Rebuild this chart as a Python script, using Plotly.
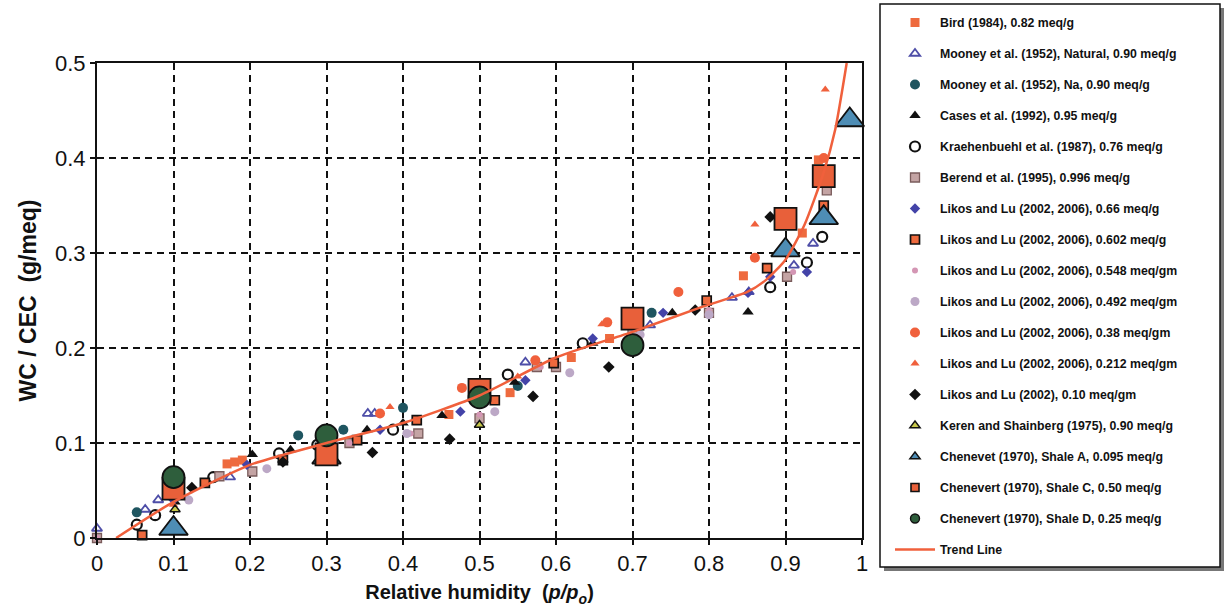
import plotly.graph_objects as go

# ---------------- data ----------------
bird_x = [0.17, 0.18, 0.19, 0.30, 0.46, 0.54, 0.62, 0.67, 0.845, 0.922, 0.943]
bird_y = [0.078, 0.080, 0.082, 0.100, 0.130, 0.153, 0.190, 0.210, 0.276, 0.321, 0.398]

mooney_nat_x = [0.0, 0.063, 0.08, 0.174, 0.354, 0.363, 0.56, 0.723, 0.83, 0.852, 0.911, 0.936]
mooney_nat_y = [0.010, 0.030, 0.040, 0.064, 0.131, 0.131, 0.185, 0.224, 0.253, 0.259, 0.287, 0.310]

mooney_na_x = [0.052, 0.263, 0.322, 0.40, 0.55, 0.725]
mooney_na_y = [0.027, 0.108, 0.114, 0.137, 0.160, 0.237]

cases_x = [0.102, 0.203, 0.253, 0.353, 0.40, 0.451, 0.546, 0.648, 0.752, 0.851]
cases_y = [0.038, 0.088, 0.093, 0.114, 0.121, 0.129, 0.164, 0.205, 0.237, 0.238]

kraeh_x = [0.052, 0.076, 0.152, 0.238, 0.288, 0.387, 0.537, 0.635, 0.88, 0.928, 0.948]
kraeh_y = [0.014, 0.024, 0.064, 0.089, 0.098, 0.114, 0.172, 0.205, 0.264, 0.290, 0.317]

berend_x = [0.0, 0.16, 0.203, 0.33, 0.42, 0.50, 0.575, 0.60, 0.70, 0.80, 0.902, 0.954]
berend_y = [0.0, 0.065, 0.070, 0.100, 0.110, 0.126, 0.180, 0.180, 0.215, 0.237, 0.275, 0.366]

likos066_x = [0.10, 0.196, 0.37, 0.475, 0.56, 0.648, 0.74, 0.851, 0.88, 0.928]
likos066_y = [0.040, 0.077, 0.114, 0.133, 0.166, 0.210, 0.237, 0.258, 0.275, 0.280]

likos0602_x = [0.059, 0.141, 0.243, 0.34, 0.418, 0.52, 0.597, 0.797, 0.876, 0.95]
likos0602_y = [0.003, 0.058, 0.082, 0.103, 0.124, 0.145, 0.184, 0.250, 0.284, 0.350]

likos0548_x = [0.0, 0.118, 0.222, 0.33, 0.41, 0.50, 0.58, 0.70, 0.80, 0.91]
likos0548_y = [0.0, 0.042, 0.072, 0.100, 0.110, 0.130, 0.180, 0.220, 0.240, 0.280]

likos0492_x = [0.12, 0.222, 0.31, 0.405, 0.52, 0.618, 0.71, 0.80]
likos0492_y = [0.040, 0.073, 0.100, 0.110, 0.133, 0.174, 0.214, 0.235]

likos038_x = [0.37, 0.477, 0.573, 0.667, 0.76, 0.86, 0.95]
likos038_y = [0.131, 0.158, 0.187, 0.227, 0.259, 0.295, 0.400]

likos0212_x = [0.10, 0.383, 0.55, 0.66, 0.86, 0.952]
likos0212_y = [0.035, 0.138, 0.170, 0.225, 0.330, 0.472]

likos010_x = [0.124, 0.243, 0.36, 0.461, 0.57, 0.669, 0.782, 0.88]
likos010_y = [0.053, 0.080, 0.090, 0.104, 0.149, 0.180, 0.240, 0.338]

keren_x = [0.102, 0.30, 0.50]
keren_y = [0.030, 0.080, 0.119]

shaleA_x = [0.10, 0.30, 0.90, 0.95, 0.984]
shaleA_y = [0.010, 0.085, 0.303, 0.337, 0.440]

shaleC_x = [0.10, 0.30, 0.50, 0.70, 0.90, 0.95]
shaleC_y = [0.052, 0.088, 0.156, 0.231, 0.336, 0.381]

shaleD_x = [0.10, 0.30, 0.50, 0.70]
shaleD_y = [0.064, 0.108, 0.148, 0.203]

trend_x = [0.025, 0.10, 0.20, 0.30, 0.40, 0.50, 0.60, 0.70, 0.79, 0.85, 0.875, 0.90, 0.925, 0.95, 0.965, 0.98]
trend_y = [0.0, 0.038, 0.077, 0.100, 0.121, 0.150, 0.190, 0.217, 0.243, 0.259, 0.272, 0.293, 0.330, 0.385, 0.430, 0.500]

x_ticks = [0, 0.1, 0.2, 0.3, 0.4, 0.5, 0.6, 0.7, 0.8, 0.9, 1]
x_tick_labels = ["0", "0.1", "0.2", "0.3", "0.4", "0.5", "0.6", "0.7", "0.8", "0.9", "1"]
y_ticks = [0, 0.1, 0.2, 0.3, 0.4, 0.5]
y_tick_labels = ["0", "0.1", "0.2", "0.3", "0.4", "0.5"]

ORANGE = "#EE6A3E"

# name, x, y, plot marker, legend marker (None -> same as plot marker)
series = [
    ("Bird (1984), 0.82 meq/g", bird_x, bird_y, dict(symbol="square", size=9, color=ORANGE), None),
    ("Mooney et al. (1952), Natural, 0.90 meq/g", mooney_nat_x, mooney_nat_y,
     dict(symbol="triangle-up-open", size=9, color="#4E4EA8", line=dict(width=1.8, color="#4E4EA8")), None),
    ("Mooney et al. (1952), Na, 0.90 meq/g", mooney_na_x, mooney_na_y,
     dict(symbol="circle", size=10, color="#1F5560"), None),
    ("Cases et al. (1992), 0.95 meq/g", cases_x, cases_y,
     dict(symbol="triangle-up", size=10, color="#111111"), None),
    ("Kraehenbuehl et al. (1987), 0.76 meq/g", kraeh_x, kraeh_y,
     dict(symbol="circle", size=10, color="white", line=dict(width=2.2, color="#111111")), None),
    ("Berend et al. (1995), 0.996 meq/g", berend_x, berend_y,
     dict(symbol="square", size=9, color="#C4A4A4", line=dict(width=1.3, color="#7A5C5C")), None),
    ("Likos and Lu (2002, 2006), 0.66 meq/g", likos066_x, likos066_y,
     dict(symbol="diamond", size=8, color="#4343A8"), None),
    ("Likos and Lu (2002, 2006), 0.602 meq/g", likos0602_x, likos0602_y,
     dict(symbol="square", size=9, color=ORANGE, line=dict(width=1.7, color="#111111")), None),
    ("Likos and Lu (2002, 2006), 0.548 meq/gm", likos0548_x, likos0548_y,
     dict(symbol="circle", size=6, color="#D496B4"), None),
    ("Likos and Lu (2002, 2006), 0.492 meq/gm", likos0492_x, likos0492_y,
     dict(symbol="circle", size=9, color="#BCA8C6"), None),
    ("Likos and Lu (2002, 2006), 0.38 meq/gm", likos038_x, likos038_y,
     dict(symbol="circle", size=10, color="#F0603C"), None),
    ("Likos and Lu (2002, 2006), 0.212 meq/gm", likos0212_x, likos0212_y,
     dict(symbol="triangle-up", size=8, color="#F0603C"), None),
    ("Likos and Lu (2002), 0.10 meq/gm", likos010_x, likos010_y,
     dict(symbol="diamond", size=9, color="#111111"), None),
    ("Keren and Shainberg (1975), 0.90 meq/g", keren_x, keren_y,
     dict(symbol="triangle-up", size=9, color="#C8C84A", line=dict(width=1.4, color="#111111")), None),
    ("Chenevet (1970), Shale A, 0.095 meq/g", shaleA_x, shaleA_y,
     dict(symbol="triangle-up", size=25, color="#4E8DB5", line=dict(width=1.8, color="#111111")),
     dict(symbol="triangle-up", size=9, color="#4E8DB5", line=dict(width=1.4, color="#111111"))),
    ("Chenevert (1970), Shale C, 0.50 meq/g", shaleC_x, shaleC_y,
     dict(symbol="square", size=22, color="#E8603A", line=dict(width=1.8, color="#111111")),
     dict(symbol="square", size=8, color="#E8603A", line=dict(width=1.6, color="#111111"))),
    ("Chenevert (1970), Shale D, 0.25 meq/g", shaleD_x, shaleD_y,
     dict(symbol="circle", size=22, color="#2E5E3C", line=dict(width=1.8, color="#111111")),
     dict(symbol="circle", size=9, color="#2E5E3C", line=dict(width=1.4, color="#111111"))),
]

fig = go.Figure()
for i, (name, xs, ys, mk, leg_mk) in enumerate(series):
    if leg_mk is None:
        fig.add_trace(go.Scatter(x=xs, y=ys, mode="markers", name=name, marker=mk,
                                 cliponaxis=False, legendgroup=f"g{i}"))
    else:
        # plotted markers (large) without legend entry
        fig.add_trace(go.Scatter(x=xs, y=ys, mode="markers", name=name, marker=mk,
                                 cliponaxis=False, legendgroup=f"g{i}", showlegend=False))
        # legend-only entry with small marker (no data drawn)
        fig.add_trace(go.Scatter(x=[None], y=[None], mode="markers", name=name, marker=leg_mk,
                                 legendgroup=f"g{i}", showlegend=True))

fig.add_trace(go.Scatter(x=trend_x, y=trend_y, mode="lines", name="Trend Line",
                         line=dict(color="#F0603C", width=2.5, shape="spline", smoothing=0.6),
                         legendgroup="trend"))

FONT = "Liberation Sans, Arial, sans-serif"


def px2x(px):
    return (px - 97) / 765.0


def py2y(py):
    return (538 - py) / 475.0


# legend box (with shadow)
fig.add_shape(type="rect", xref="paper", yref="paper",
              x0=px2x(884), x1=px2x(1224), y0=py2y(571), y1=py2y(8),
              fillcolor="#777777", line=dict(width=0), layer="above")
fig.add_shape(type="rect", xref="paper", yref="paper",
              x0=px2x(880), x1=px2x(1220), y0=py2y(567), y1=py2y(4),
              fillcolor="white", line=dict(width=1.5, color="#111111"), layer="above")

fig.update_layout(
    width=1225, height=607,
    margin=dict(l=97, r=363, t=63, b=69, autoexpand=False),
    paper_bgcolor="white", plot_bgcolor="white",
    font=dict(family=FONT, color="#111111"),
    showlegend=True,
    legend=dict(x=px2x(890), y=py2y(8), xanchor="left", yanchor="top",
                bgcolor="rgba(0,0,0,0)", borderwidth=0, maxheight=600,
                font=dict(family=FONT, size=12.3, color="#111111", weight="bold"),
                itemsizing="trace", tracegroupgap=12, itemwidth=40),
    xaxis=dict(range=[0, 1], tickvals=x_ticks, ticktext=x_tick_labels,
               showgrid=True, gridcolor="#111111", gridwidth=1.8, griddash="7px,5px",
               showline=True, linecolor="#111111", linewidth=2, mirror=True,
               ticks="outside", ticklen=5, tickcolor="#111111", tickwidth=1.5,
               tickfont=dict(family=FONT, size=22, color="#111111"),
               zeroline=False,
               title=dict(text="<b>Relative humidity  (<i>p/p<sub>o</sub></i>)</b>",
                          font=dict(family=FONT, size=20, color="#111111"), standoff=10)),
    yaxis=dict(range=[0, 0.5], tickvals=y_ticks, ticktext=y_tick_labels,
               showgrid=True, gridcolor="#111111", gridwidth=1.8, griddash="7px,5px",
               showline=True, linecolor="#111111", linewidth=2, mirror=True,
               ticks="outside", ticklen=5, tickcolor="#111111", tickwidth=1.5,
               tickfont=dict(family=FONT, size=22, color="#111111"),
               zeroline=False,
               title=dict(text="<b>WC / CEC  (g/meq)</b>",
                          font=dict(family=FONT, size=23, color="#111111"), standoff=12)),
)

fig.write_html("out.html")
